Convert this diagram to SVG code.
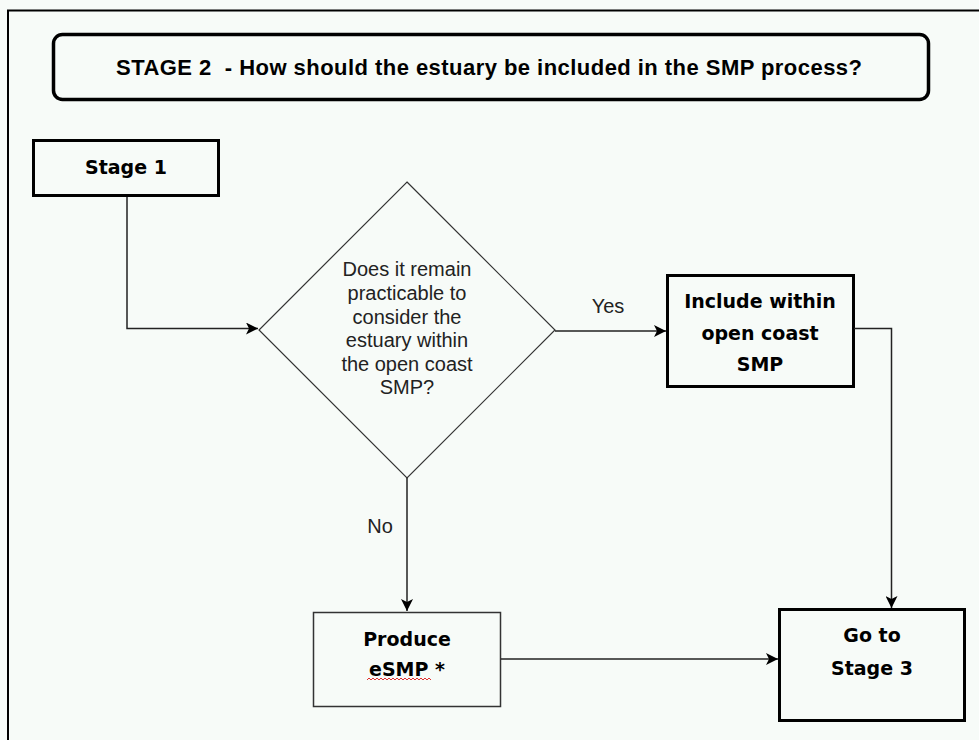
<svg xmlns="http://www.w3.org/2000/svg" width="979" height="740" viewBox="0 0 979 740">
<style>
.bg{fill:#f7fbf8}
.frame{fill:none;stroke:#000;stroke-width:2}
.box{fill:none;stroke:#000;stroke-width:3}
.thin{fill:none;stroke:#333;stroke-width:1.5}
.dia{fill:none;stroke:#333;stroke-width:1.2}
.conn{fill:none;stroke:#222;stroke-width:1.5}
.bt{font-family:"DejaVu Sans",Verdana,sans-serif;font-weight:bold;font-size:19px;fill:#000;text-anchor:middle}
.rt{font-family:"Liberation Sans",Arial,sans-serif;font-size:20px;fill:#222;text-anchor:middle}
.tt{font-family:"Liberation Sans",Arial,sans-serif;font-weight:bold;font-size:22px;fill:#000;white-space:pre}
</style>
<defs>
<marker id="arr" markerUnits="userSpaceOnUse" markerWidth="14" markerHeight="12" refX="12" refY="6" orient="auto">
<path d="M0,0 L12,6 L0,12 L3,6 z" fill="#000"/>
</marker>
</defs>
<rect class="bg" x="0" y="0" width="979" height="740"/>
<path class="frame" d="M8,740 V10.5 H979"/>

<g id="title">
<rect x="53.5" y="34.5" width="875" height="65" rx="9" fill="none" stroke="#000" stroke-width="3.5"/>
<text class="tt" x="116" y="75" textLength="746" lengthAdjust="spacing" xml:space="preserve">STAGE 2  - How should the estuary be included in the SMP process?</text>
</g>

<g id="stage1">
<rect class="box" x="33.5" y="140.5" width="185" height="55"/>
<text class="bt" x="126" y="174">Stage 1</text>
</g>

<g id="decision">
<path class="dia" d="M407,182 L555,330 L407,478 L259,330 Z"/>
<text class="rt" x="407" y="276">Does it remain</text>
<text class="rt" x="407" y="300">practicable to</text>
<text class="rt" x="407" y="324">consider the</text>
<text class="rt" x="407" y="347">estuary within</text>
<text class="rt" x="407" y="371">the open coast</text>
<text class="rt" x="407" y="394">SMP?</text>
</g>

<g id="include">
<rect class="box" x="667.5" y="275.5" width="186" height="111"/>
<text class="bt" x="760" y="308">Include within</text>
<text class="bt" x="760" y="340">open coast</text>
<text class="bt" x="760" y="371">SMP</text>
</g>

<g id="produce">
<rect class="thin" x="313.5" y="612.5" width="187" height="94"/>
<text class="bt" x="407" y="646">Produce</text>
<text class="bt" x="407" y="676">eSMP *</text>
<path d="M367,680 l2,-2 l2,2 l2,-2 l2,2 l2,-2 l2,2 l2,-2 l2,2 l2,-2 l2,2 l2,-2 l2,2 l2,-2 l2,2 l2,-2 l2,2 l2,-2 l2,2 l2,-2 l2,2 l2,-2 l2,2 l2,-2 l2,2 l2,-2 l2,2 l2,-2 l2,2 l2,-2 l2,2 l2,-2 l2,2" fill="none" stroke="#e03030" stroke-width="1"/>
</g>

<g id="goto">
<rect class="box" x="779.5" y="609.5" width="185" height="111"/>
<text class="bt" x="872" y="642">Go to</text>
<text class="bt" x="872" y="675">Stage 3</text>
</g>

<g id="connectors">
<path class="conn" d="M127,197 V328.5 H258" marker-end="url(#arr)"/>
<path class="conn" d="M555,331 H666" marker-end="url(#arr)"/>
<text class="rt" x="608" y="313">Yes</text>
<path class="conn" d="M407,478 V611" marker-end="url(#arr)"/>
<text class="rt" x="380" y="533">No</text>
<path class="conn" d="M854,328.5 H891.5 V608" marker-end="url(#arr)"/>
<path class="conn" d="M501,659 H778" marker-end="url(#arr)"/>
</g>
</svg>
